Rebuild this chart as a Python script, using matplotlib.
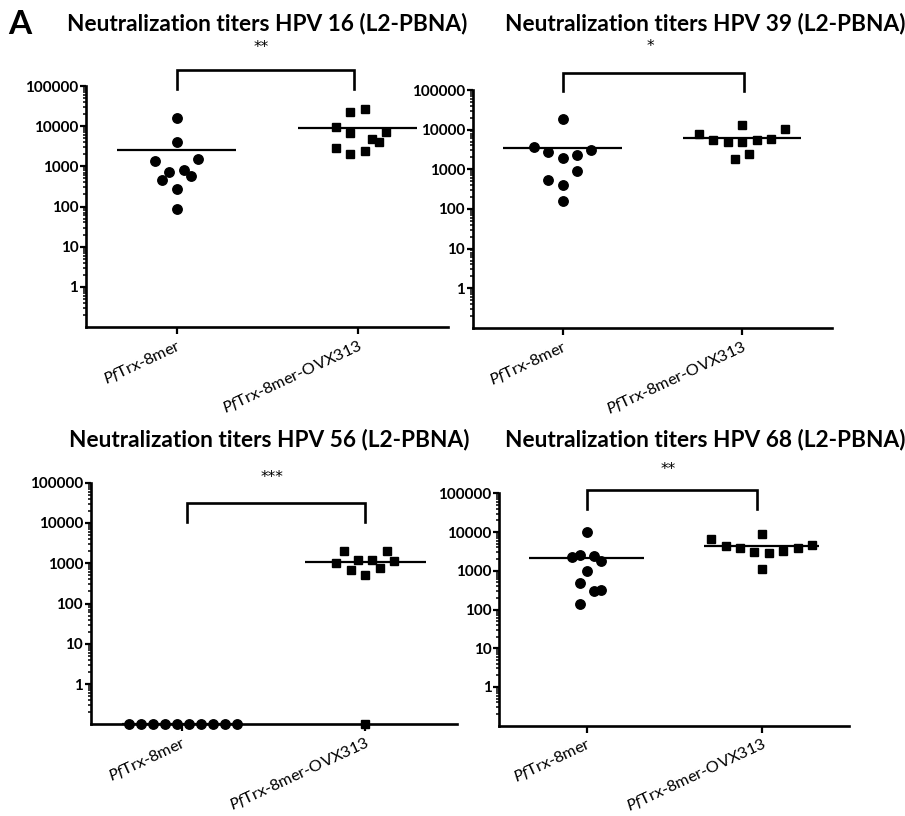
import numpy as np
import matplotlib
matplotlib.use("Agg")
import matplotlib.pyplot as plt
from matplotlib.ticker import FixedLocator, LogLocator, NullFormatter

plt.rcParams['font.family'] = ['Lato', 'DejaVu Sans']
plt.rcParams['mathtext.fontset'] = 'custom'
plt.rcParams['mathtext.it'] = 'Lato:italic'
plt.rcParams['mathtext.rm'] = 'Lato'

# ---------------- data ----------------
groups = [r'$\it{Pf}$Trx-8mer', r'$\it{Pf}$Trx-8mer-OVX313']
titles = ["Neutralization titers HPV 16 (L2-PBNA)",
          "Neutralization titers HPV 39 (L2-PBNA)",
          "Neutralization titers HPV 56 (L2-PBNA)",
          "Neutralization titers HPV 68 (L2-PBNA)"]
stars = ["**", "*", "***", "**"]
ytick_vals = [1, 10, 100, 1000, 10000, 100000]
ytick_labels = ["1", "10", "100", "1000", "10000", "100000"]

hpv16_pf = [15800, 4000, 1350, 1550, 720, 830, 590, 450, 270, 87]
hpv16_ovx = [23000, 27000, 9800, 6900, 7300, 4900, 4000, 2900, 2000, 2400]
hpv39_pf = [19000, 3700, 2800, 3000, 2350, 1900, 910, 540, 400, 155]
hpv39_ovx = [7800, 5400, 4800, 4800, 12800, 5400, 5900, 10500, 2500, 1850]
hpv56_pf = [0.1, 0.1, 0.1, 0.1, 0.1, 0.1, 0.1, 0.1, 0.1, 0.1]
hpv56_ovx = [2050, 2050, 1000, 1210, 1230, 1150, 690, 760, 520, 0.1]
hpv68_pf = [10100, 2300, 2600, 2450, 1820, 1000, 490, 295, 325, 140]
hpv68_ovx = [6600, 4250, 3900, 3100, 8700, 2950, 3300, 3900, 4600, 1100]

# ---------------- layout (swarm slots, in marker-step units) ----------------
slots16_pf = [0, 0, -3, 3, -1, 1, 2, -2, 0, 0]
slots16_ovx = [-1, 1, -3, -1, 4, 2, 3, -3, -1, 1]
slots39_pf = [0, -4, -2, 4, 2, 0, 2, -2, 0, 0]
slots39_ovx = [-6, -4, -2, 0, 0, 2, 4, 6, 1, -1]
slots56_pf = [-7.4, -5.75, -4.1, -2.4, -0.7, 0.97, 2.6, 4.3, 5.9, 7.6]
slots56_ovx = [-3, 3, -4, -1, 1, 4, -2, 2, 0, 0]
slots68_pf = [0, -2, -1, 1, 2, 0, -1, 1, 2, -1]
slots68_ovx = [-7, -5, -3, -1, 0, 1, 3, 5, 7, 0]

panels = [
    (hpv16_pf, hpv16_ovx, slots16_pf, slots16_ovx),
    (hpv39_pf, hpv39_ovx, slots39_pf, slots39_ovx),
    (hpv56_pf, hpv56_ovx, slots56_pf, slots56_ovx),
    (hpv68_pf, hpv68_ovx, slots68_pf, slots68_ovx),
]

W, H = 905, 816
# axes boxes in pixels: left, top, right, bottom
boxes = [(86, 86, 448, 327), (472.7, 90, 832, 328),
         (90.7, 482.7, 456.7, 724.3), (499.3, 493.3, 849, 725.7)]
# bracket: (x0, x1, y_top_frac, y_leg_frac, star_x, star_y_frac)
brackets = [(0.0, 0.98, 1.066, 0.988, 0.47, 1.158),
            (0.0, 1.01, 1.073, 0.997, 0.49, 1.182),
            (0.025, 1.0, 0.917, 0.839, 0.49, 1.021),
            (0.0, 0.976, 1.014, 0.934, 0.466, 1.103)]
title_pos = [(267, 24), (705, 24), (269, 440), (705, 440)]

fig = plt.figure(figsize=(W / 100, H / 100), dpi=100)

for i, (a, b, sa, sb) in enumerate(panels):
    l, t, r, btm = boxes[i]
    ax = fig.add_axes([l / W, 1 - btm / H, (r - l) / W, (btm - t) / H])
    ax.set_yscale('log')
    ax.set_ylim(0.1, 100000)
    ax.set_xlim(-0.5, 1.5)
    step = 7.2 / (r - l) * 2.0
    xa = [0 + s * step for s in sa]
    xb = [1 + s * step for s in sb]
    ax.plot(xa, a, 'o', color='black', markersize=6.8, clip_on=False, zorder=5)
    ax.plot(xb, b, 's', color='black', markersize=6.4, clip_on=False, zorder=5)
    for x, vals in ((0, a), (1, b)):
        m = np.mean(vals)
        ax.plot([x - 0.33, x + 0.33], [m, m], color='black', lw=1.6,
                clip_on=False, zorder=4, solid_capstyle='butt')

    for sp in ('top', 'right'):
        ax.spines[sp].set_visible(False)
    for sp in ('left', 'bottom'):
        ax.spines[sp].set_linewidth(1.9)

    ax.yaxis.set_major_locator(FixedLocator(ytick_vals))
    ax.set_yticklabels(ytick_labels, fontweight='bold', fontsize=11)
    ax.yaxis.set_minor_locator(LogLocator(base=10, subs=np.arange(2, 10), numticks=20))
    ax.yaxis.set_minor_formatter(NullFormatter())
    ax.tick_params(axis='y', which='major', length=4, width=1.6, pad=1.5)
    ax.tick_params(axis='y', which='minor', length=2.5, width=1.1)
    ax.set_xticks([0, 1])
    ax.set_xticklabels(groups, fontsize=11.8, rotation=25, ha='right',
                       rotation_mode='anchor')
    ax.tick_params(axis='x', length=5, width=1.6, pad=2)

    x0, x1, yt, yl, sx, sy = brackets[i]
    tr = ax.get_xaxis_transform()
    ax.plot([x0, x0, x1, x1], [yl, yt, yt, yl], color='black', lw=1.9,
            transform=tr, clip_on=False, solid_joinstyle='miter')
    ax.text(sx, sy, stars[i], transform=tr, ha='center', va='center',
            fontsize=11, family='DejaVu Sans')

    tx, ty = title_pos[i]
    fig.text(tx / W, 1 - ty / H, titles[i], ha='center', va='center',
             fontsize=16.3, fontweight='bold')

fig.text(8 / W, 1 - 24 / H, "A", ha='left', va='center', fontsize=24, fontweight='bold')

fig.savefig("out.png", dpi=100)
